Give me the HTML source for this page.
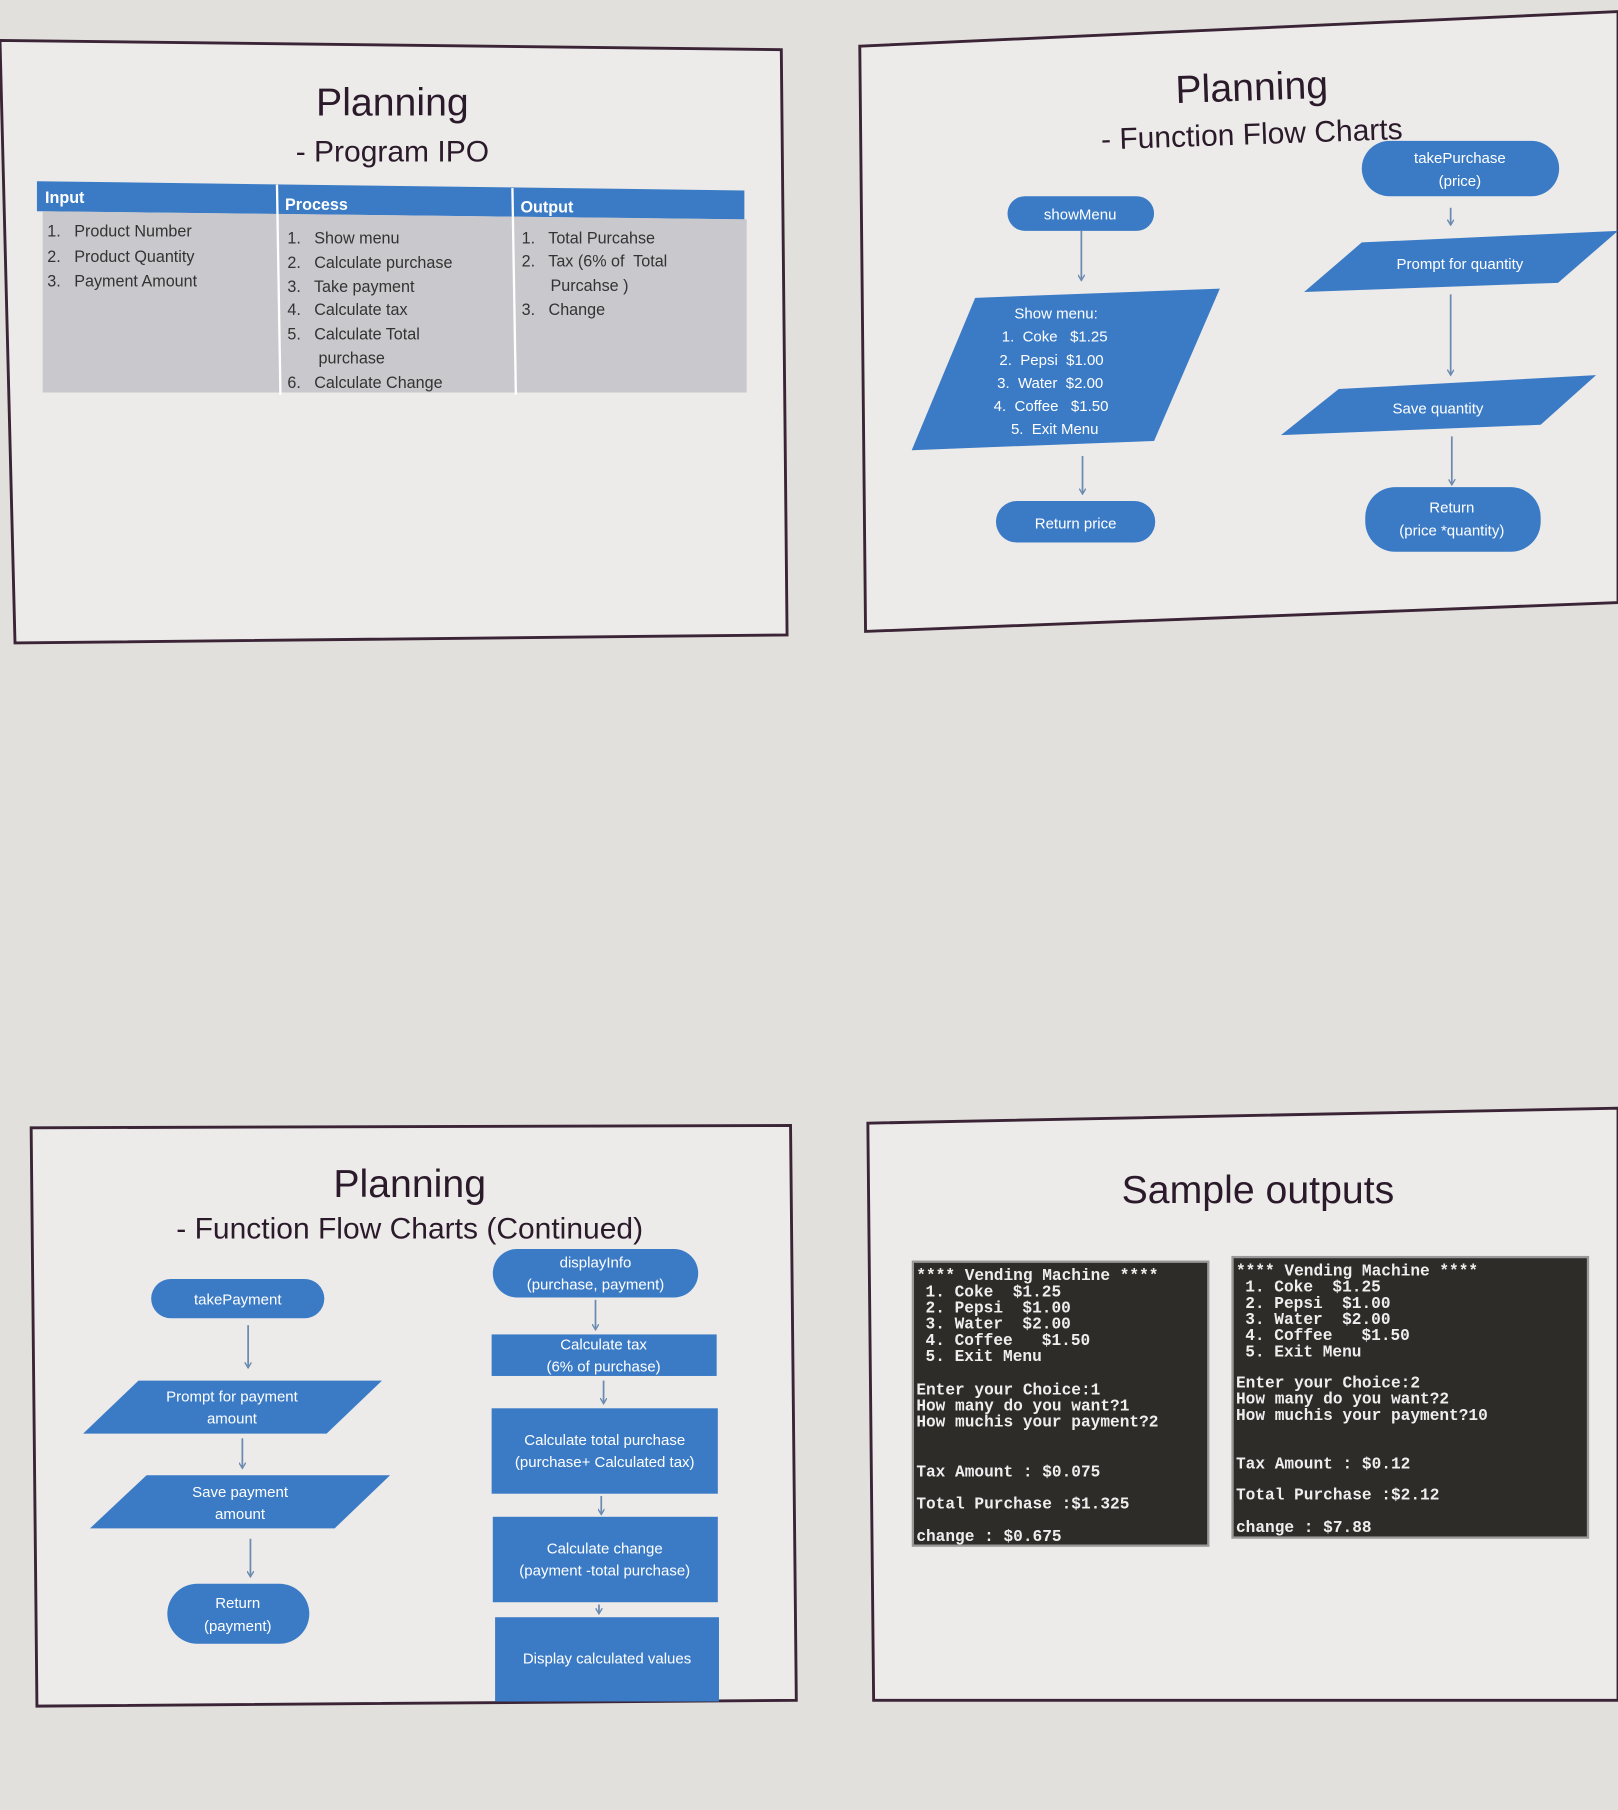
<!DOCTYPE html>
<html><head><meta charset="utf-8"><style>
html,body{margin:0;padding:0;background:#e2e0dc;}
svg{display:block}
text{font-family:"Liberation Sans",sans-serif;white-space:pre}
.t{fill:#2a1a2a;font-size:34px}
.st{fill:#2a1a2a;font-size:26px}
.w{fill:#fff;font-size:13px}
.k{fill:#333;font-size:14px}
.h{fill:#fff;font-size:14px;font-weight:bold}
.m{font-family:"Liberation Mono",monospace;fill:#eee;font-size:14px;font-weight:bold}
</style></head><body>
<svg width="1618" height="1810" viewBox="0 0 1402 1568" preserveAspectRatio="none">
<defs><marker id="a" markerWidth="6" markerHeight="6" refX="5" refY="3" orient="auto" markerUnits="userSpaceOnUse"><path d="M0,0 L5,3 L0,6" fill="none" stroke="#6a8ab0" stroke-width="1.2"/></marker></defs>
<rect width="1402" height="1568" fill="#e2e0dc"/>
<!-- panel 1 -->
<polygon points="0,35 677,43 682,550 13,557" fill="#ecebea" stroke="#3a2436" stroke-width="2.5"/>
<text class="t" x="340" y="100" text-anchor="middle">Planning</text>
<text class="st" x="340" y="140" text-anchor="middle">- Program IPO</text>
<polygon points="32,157 645,165 645,190 32,183" fill="#3b7bc6"/>
<polygon points="37,183 647,190 647,340 37,340" fill="#c9c8cc"/>
<line x1="240" y1="160" x2="243" y2="342" stroke="#fff" stroke-width="2"/>
<line x1="444" y1="163" x2="447" y2="342" stroke="#fff" stroke-width="2"/>
<text class="h" x="39" y="176">Input</text><text class="h" x="247" y="182">Process</text><text class="h" x="451" y="184">Output</text>
<text class="k" x="41" y="205">1.   Product Number</text>
<text class="k" x="41" y="227">2.   Product Quantity</text>
<text class="k" x="41" y="248">3.   Payment Amount</text>
<text class="k" x="249" y="211">1.   Show menu</text>
<text class="k" x="249" y="232">2.   Calculate purchase</text>
<text class="k" x="249" y="253">3.   Take payment</text>
<text class="k" x="249" y="273">4.   Calculate tax</text>
<text class="k" x="249" y="294">5.   Calculate Total</text>
<text class="k" x="276" y="315">purchase</text>
<text class="k" x="249" y="336">6.   Calculate Change</text>
<text class="k" x="452" y="211">1.   Total Purcahse</text>
<text class="k" x="452" y="231">2.   Tax (6% of  Total</text>
<text class="k" x="477" y="252">Purcahse )</text>
<text class="k" x="452" y="273">3.   Change</text>
<!-- panel 2 -->
<polygon points="745,40 1402,10 1402,522 750,547" fill="#ecebea" stroke="#3a2436" stroke-width="2.5"/>
<text class="t" x="1085" y="87" text-anchor="middle" transform="rotate(-2 1085 87)">Planning</text>
<text class="st" x="1085" y="125" text-anchor="middle" transform="rotate(-2 1085 125)">- Function Flow Charts</text>
<g fill="#3b7bc6">
<rect x="873" y="170" width="127" height="30" rx="15"/>
<polygon points="845,258 1057,250 1000,382 790,390"/>
<rect x="863" y="434" width="138" height="36" rx="18"/>
<rect x="1180" y="122" width="171" height="48" rx="24"/>
<polygon points="1180,210 1402,200 1350,245 1130,253"/>
<polygon points="1160,337 1383,325 1335,368 1110,377"/>
<rect x="1183" y="422" width="152" height="56" rx="26"/>
</g>
<g stroke="#6a8ab0" stroke-width="1.5" fill="none" marker-end="url(#a)">
<line x1="937" y1="200" x2="937" y2="243"/><line x1="938" y1="395" x2="938" y2="428"/>
<line x1="1257" y1="180" x2="1257" y2="195"/><line x1="1257" y1="255" x2="1257" y2="325"/><line x1="1258" y1="378" x2="1258" y2="420"/>
</g>
<text class="w" x="936" y="190" text-anchor="middle">showMenu</text>
<text class="w" x="879" y="276">Show menu:</text>
<text class="w" x="868" y="296">1.  Coke   $1.25</text>
<text class="w" x="866" y="316">2.  Pepsi  $1.00</text>
<text class="w" x="864" y="336">3.  Water  $2.00</text>
<text class="w" x="861" y="356">4.  Coffee   $1.50</text>
<text class="w" x="876" y="376">5.  Exit Menu</text>
<text class="w" x="932" y="458" text-anchor="middle">Return price</text>
<text class="w" x="1265" y="141" text-anchor="middle">takePurchase</text>
<text class="w" x="1265" y="161" text-anchor="middle">(price)</text>
<text class="w" x="1265" y="233" text-anchor="middle">Prompt for quantity</text>
<text class="w" x="1246" y="358" text-anchor="middle">Save quantity</text>
<text class="w" x="1258" y="444" text-anchor="middle">Return</text>
<text class="w" x="1258" y="464" text-anchor="middle">(price *quantity)</text>
<!-- panel 3 -->
<polygon points="27,977 685,975 690,1473 32,1478" fill="#ecebea" stroke="#3a2436" stroke-width="2.5"/>
<text class="t" x="355" y="1037" text-anchor="middle">Planning</text>
<text class="st" x="355" y="1073" text-anchor="middle">- Function Flow Charts (Continued)</text>
<g fill="#3b7bc6">
<rect x="131" y="1108" width="150" height="34" rx="17"/>
<polygon points="120,1196 331,1196 283,1242 72,1242"/>
<polygon points="127,1278 338,1278 290,1324 78,1324"/>
<rect x="145" y="1372" width="123" height="52" rx="26"/>
<rect x="427" y="1082" width="178" height="42" rx="21"/>
<rect x="426" y="1156" width="195" height="36"/>
<rect x="426" y="1220" width="196" height="74"/>
<rect x="427" y="1314" width="195" height="74"/>
<rect x="429" y="1401" width="194" height="73"/>
</g>
<g stroke="#6a8ab0" stroke-width="1.5" fill="none" marker-end="url(#a)">
<line x1="215" y1="1148" x2="215" y2="1185"/><line x1="210" y1="1246" x2="210" y2="1272"/><line x1="217" y1="1333" x2="217" y2="1366"/>
<line x1="516" y1="1126" x2="516" y2="1152"/><line x1="523" y1="1196" x2="523" y2="1216"/><line x1="521" y1="1296" x2="521" y2="1312"/><line x1="519" y1="1390" x2="519" y2="1398"/>
</g>
<text class="w" x="206" y="1130" text-anchor="middle">takePayment</text>
<text class="w" x="201" y="1214" text-anchor="middle">Prompt for payment</text>
<text class="w" x="201" y="1233" text-anchor="middle">amount</text>
<text class="w" x="208" y="1297" text-anchor="middle">Save payment</text>
<text class="w" x="208" y="1316" text-anchor="middle">amount</text>
<text class="w" x="206" y="1393" text-anchor="middle">Return</text>
<text class="w" x="206" y="1413" text-anchor="middle">(payment)</text>
<text class="w" x="516" y="1098" text-anchor="middle">displayInfo</text>
<text class="w" x="516" y="1117" text-anchor="middle">(purchase, payment)</text>
<text class="w" x="523" y="1169" text-anchor="middle">Calculate tax</text>
<text class="w" x="523" y="1188" text-anchor="middle">(6% of purchase)</text>
<text class="w" x="524" y="1252" text-anchor="middle">Calculate total purchase</text>
<text class="w" x="524" y="1271" text-anchor="middle">(purchase+ Calculated tax)</text>
<text class="w" x="524" y="1346" text-anchor="middle">Calculate change</text>
<text class="w" x="524" y="1365" text-anchor="middle">(payment -total purchase)</text>
<text class="w" x="526" y="1441" text-anchor="middle">Display calculated values</text>
<!-- panel 4 -->
<polygon points="752,973 1402,960 1402,1473 757,1473" fill="#ecebea" stroke="#3a2436" stroke-width="2.5"/>
<text class="t" x="1090" y="1042" text-anchor="middle">Sample outputs</text>
<rect x="791" y="1093" width="256" height="246" fill="#2e2c28" stroke="#999" stroke-width="2"/>
<rect x="1068" y="1089" width="308" height="243" fill="#2e2c28" stroke="#999" stroke-width="2"/>
<text class="m" x="794" y="1109">**** Vending Machine ****</text>
<text class="m" x="802" y="1123">1. Coke  $1.25</text>
<text class="m" x="802" y="1137">2. Pepsi  $1.00</text>
<text class="m" x="802" y="1151">3. Water  $2.00</text>
<text class="m" x="802" y="1165">4. Coffee   $1.50</text>
<text class="m" x="802" y="1179">5. Exit Menu</text>
<text class="m" x="794" y="1208">Enter your Choice:1</text>
<text class="m" x="794" y="1222">How many do you want?1</text>
<text class="m" x="794" y="1236">How muchis your payment?2</text>
<text class="m" x="794" y="1279">Tax Amount : $0.075</text>
<text class="m" x="794" y="1307">Total Purchase :$1.325</text>
<text class="m" x="794" y="1335">change : $0.675</text>
<text class="m" x="1071" y="1105">**** Vending Machine ****</text>
<text class="m" x="1079" y="1119">1. Coke  $1.25</text>
<text class="m" x="1079" y="1133">2. Pepsi  $1.00</text>
<text class="m" x="1079" y="1147">3. Water  $2.00</text>
<text class="m" x="1079" y="1161">4. Coffee   $1.50</text>
<text class="m" x="1079" y="1175">5. Exit Menu</text>
<text class="m" x="1071" y="1202">Enter your Choice:2</text>
<text class="m" x="1071" y="1216">How many do you want?2</text>
<text class="m" x="1071" y="1230">How muchis your payment?10</text>
<text class="m" x="1071" y="1272">Tax Amount : $0.12</text>
<text class="m" x="1071" y="1299">Total Purchase :$2.12</text>
<text class="m" x="1071" y="1327">change : $7.88</text>
</svg>
</body></html>
